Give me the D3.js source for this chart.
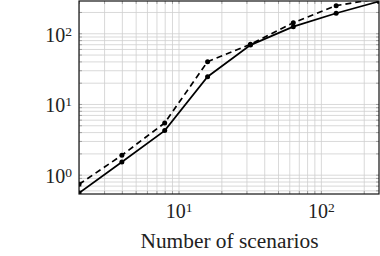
<!DOCTYPE html>
<html lang="en">
<head>
<meta charset="UTF-8">
<script src="https://cdn.jsdelivr.net/npm/d3@7"></script>
<style>
  body { margin: 0; background: #fff; }
  text { font-family: "Liberation Serif", "DejaVu Serif", serif; fill: #222; }
</style>
</head>
<body>
<div id="viz"></div>
<script>
// data (log-log)
const scenarios = [2, 4, 8, 16, 32, 64, 128, 256]
const solidSeries = [0.55, 1.51, 4.2, 24.3, 68, 124, 192, 282]
const dashedSeries = [0.73, 1.88, 5.4, 39.7, 70, 141, 246, 310]
const xTickLabels = [10, 100]
const yTickLabels = [1, 10, 100]

const fullWidth = 380, fullHeight = 256
const margins = { top: 1, right: 1, bottom: 62, left: 79 }
const width = fullWidth - margins.left - margins.right
const height = fullHeight - margins.top - margins.bottom

const svg = d3.select("#viz").append("svg")
    .attr("width", fullWidth)
    .attr("height", fullHeight)
  .append("g")
    .attr("transform", `translate(${margins.left},${margins.top})`)

const x = d3.scaleLog().domain([2, 256]).range([0, width])
const y = d3.scaleLog().domain([0.533, 286]).range([height, 0])

// grid (major + minor)
svg.append("g")
    .attr("transform", `translate(0,${height})`)
    .call(d3.axisBottom(x).tickValues(x.ticks()).tickSize(-height).tickFormat(""))
    .call(g => g.select(".domain").remove())
    .call(g => g.selectAll("line").attr("stroke", "#cfcfcf").attr("stroke-width", 0.8))
svg.append("g")
    .call(d3.axisLeft(y).tickValues(y.ticks()).tickSize(-width).tickFormat(""))
    .call(g => g.select(".domain").remove())
    .call(g => g.selectAll("line").attr("stroke", "#cfcfcf").attr("stroke-width", 0.8))

// small inside tick marks on all four sides
function ticksInside(axis, scale, size, tr) {
  svg.append("g").attr("transform", tr || null)
    .call(axis(scale).tickValues(scale.ticks()).tickSizeInner(size).tickSizeOuter(0).tickFormat(""))
    .call(g => g.select(".domain").remove())
    .call(g => g.selectAll("line").attr("stroke", "#888").attr("stroke-width", 0.7))
}
ticksInside(d3.axisBottom, x, -3, `translate(0,${height})`)
ticksInside(d3.axisTop, x, -3)
ticksInside(d3.axisLeft, y, -3)
ticksInside(d3.axisRight, y, -3, `translate(${width},0)`)

// tick labels as 10^k
function powLabel(sel, v) {
  const k = Math.round(Math.log10(v))
  sel.text("")
  sel.append("tspan").text("10")
  sel.append("tspan").attr("dy", "-0.45em").attr("font-size", "13.5px").text(k)
}

const xAxis = svg.append("g")
    .attr("transform", `translate(0,${height})`)
    .call(d3.axisBottom(x).tickValues(xTickLabels).tickSize(0).tickPadding(0))
xAxis.select(".domain").remove()
xAxis.selectAll("text")
    .attr("font-size", "20px")
    .attr("dy", null)
    .attr("y", 24)
    .attr("text-anchor", "middle")
    .each(function (d) { powLabel(d3.select(this), d) })

const yAxis = svg.append("g")
    .call(d3.axisLeft(y).tickValues(yTickLabels).tickSize(0).tickPadding(0))
yAxis.select(".domain").remove()
yAxis.selectAll("text")
    .attr("font-size", "20px")
    .attr("dy", null)
    .attr("x", -7)
    .attr("y", 8)
    .attr("text-anchor", "end")
    .each(function (d) { powLabel(d3.select(this), d) })

// series
svg.append("clipPath").attr("id", "plotClip")
  .append("rect").attr("width", width).attr("height", height)

const line = d3.line().x((d, i) => x(scenarios[i])).y(d => y(d))
const plot = svg.append("g").attr("clip-path", "url(#plotClip)")

plot.append("path").datum(dashedSeries)
    .attr("d", line)
    .attr("fill", "none")
    .attr("stroke", "#000")
    .attr("stroke-width", 1.7)
    .attr("stroke-dasharray", "6,4")
plot.append("path").datum(solidSeries)
    .attr("d", line)
    .attr("fill", "none")
    .attr("stroke", "#000")
    .attr("stroke-width", 1.7)

for (const series of [dashedSeries, solidSeries]) {
  plot.selectAll(null).data(series).enter()
    .append("circle")
      .attr("cx", (d, i) => x(scenarios[i]))
      .attr("cy", d => y(d))
      .attr("r", 2.5)
      .attr("fill", "#000")
}

// frame
svg.append("rect")
    .attr("width", width).attr("height", height)
    .attr("fill", "none").attr("stroke", "#111").attr("stroke-width", 1.2)

// axis title
svg.append("text")
    .attr("x", width / 2 + 0.5)
    .attr("y", 247)
    .attr("text-anchor", "middle")
    .attr("font-size", "20px")
    .attr("textLength", 178)
    .attr("lengthAdjust", "spacingAndGlyphs")
    .text("Number of scenarios")
</script>
</body>
</html>
